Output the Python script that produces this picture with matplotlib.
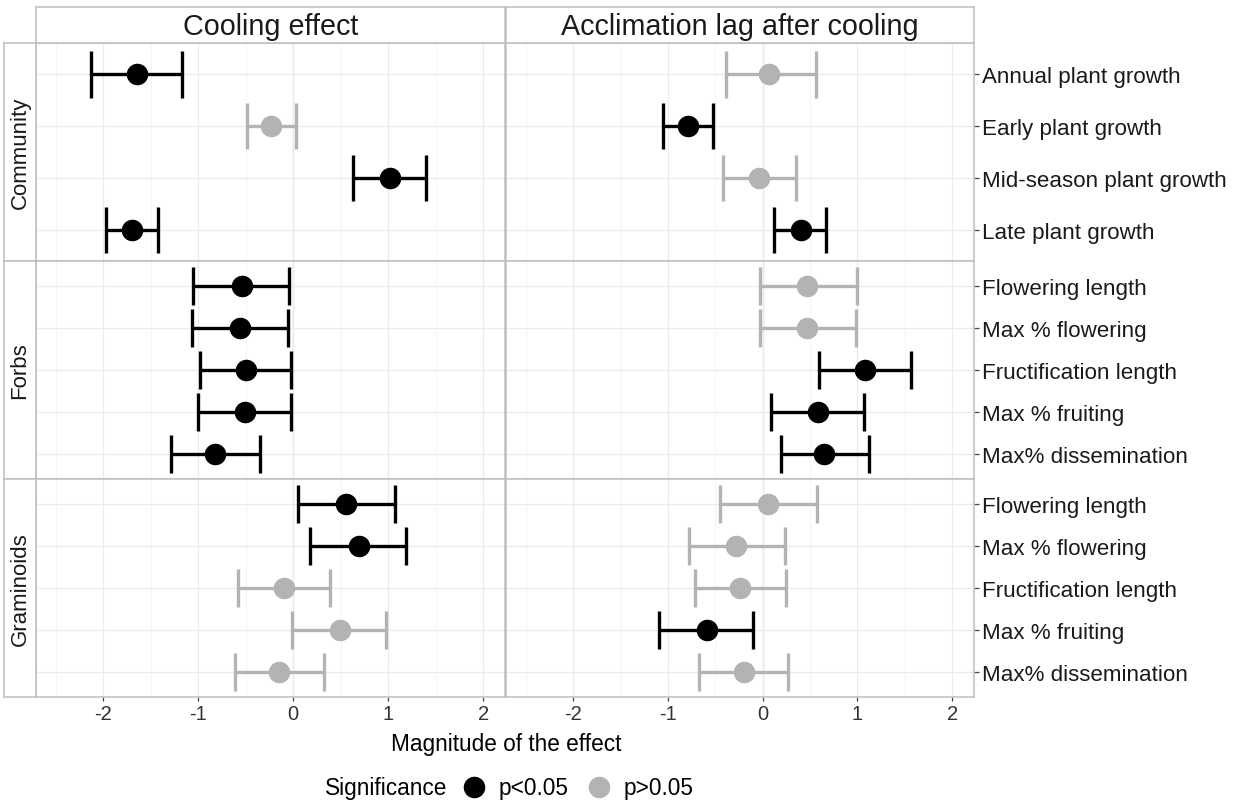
import matplotlib
matplotlib.use("Agg")
import matplotlib.pyplot as plt
import numpy as np

plt.rcParams["font.family"] = ["Liberation Sans", "DejaVu Sans"]
plt.rcParams["axes.unicode_minus"] = False

# ---- data ----
comm_labels = ["Annual plant growth", "Early plant growth", "Mid-season plant growth", "Late plant growth"]
pheno_labels = ["Flowering length", "Max % flowering", "Fructification length", "Max % fruiting", "Max% dissemination"]
groups = ["Community", "Forbs", "Graminoids"]
effects = ["Cooling effect", "Acclimation lag after cooling"]

cool_comm_est = [-1.65, -0.23, 1.02, -1.70]
cool_comm_lo = [-2.13, -0.49, 0.63, -1.97]
cool_comm_hi = [-1.17, 0.03, 1.40, -1.42]
cool_comm_sig = [1, 0, 1, 1]

lag_comm_est = [0.07, -0.79, -0.04, 0.40]
lag_comm_lo = [-0.39, -1.05, -0.42, 0.12]
lag_comm_hi = [0.56, -0.53, 0.35, 0.67]
lag_comm_sig = [0, 1, 0, 1]

cool_forb_est = [-0.54, -0.56, -0.50, -0.51, -0.82]
cool_forb_lo = [-1.06, -1.07, -0.98, -1.00, -1.29]
cool_forb_hi = [-0.04, -0.06, -0.02, -0.02, -0.35]
cool_forb_sig = [1, 1, 1, 1, 1]

lag_forb_est = [0.47, 0.47, 1.08, 0.58, 0.65]
lag_forb_lo = [-0.03, -0.03, 0.59, 0.09, 0.19]
lag_forb_hi = [0.99, 0.98, 1.56, 1.07, 1.12]
lag_forb_sig = [0, 0, 1, 1, 1]

cool_gram_est = [0.56, 0.69, -0.10, 0.49, -0.15]
cool_gram_lo = [0.05, 0.18, -0.58, -0.01, -0.61]
cool_gram_hi = [1.07, 1.19, 0.39, 0.98, 0.32]
cool_gram_sig = [1, 1, 0, 0, 0]

lag_gram_est = [0.06, -0.28, -0.24, -0.59, -0.20]
lag_gram_lo = [-0.45, -0.78, -0.72, -1.09, -0.67]
lag_gram_hi = [0.57, 0.23, 0.25, -0.10, 0.27]
lag_gram_sig = [0, 0, 0, 1, 0]

panels = [
    [(cool_comm_est, cool_comm_lo, cool_comm_hi, cool_comm_sig),
     (lag_comm_est, lag_comm_lo, lag_comm_hi, lag_comm_sig)],
    [(cool_forb_est, cool_forb_lo, cool_forb_hi, cool_forb_sig),
     (lag_forb_est, lag_forb_lo, lag_forb_hi, lag_forb_sig)],
    [(cool_gram_est, cool_gram_lo, cool_gram_hi, cool_gram_sig),
     (lag_gram_est, lag_gram_lo, lag_gram_hi, lag_gram_sig)],
]
row_labels = [comm_labels, pheno_labels, pheno_labels]

BLK = "#000000"; GRY = "#B3B3B3"; BORDER = "#BEBEBE"
W, H = 1239, 804
fig = plt.figure(figsize=(W / 100, H / 100), dpi=100)

def px_axes(x0, y0, x1, y1):
    return fig.add_axes([x0 / W, 1 - y1 / H, (x1 - x0) / W, (y1 - y0) / H])

def border(ax):
    for s in ax.spines.values():
        s.set_color(BORDER); s.set_linewidth(1.1)

col_x = [(36, 505), (506, 974)]
row_y = [(44, 262), (262, 480), (480, 698)]

handles = {}
for r, (y0, y1) in enumerate(row_y):
    labs = row_labels[r]
    n = len(labs)
    ypos = np.arange(n)
    for c, (x0, x1) in enumerate(col_x):
        ax = px_axes(x0, y0, x1, y1)
        est, lo, hi, sig = panels[r][c]
        ax.set_xlim(-2.71, 2.23)
        ax.set_ylim(n - 0.4, -0.6)
        ax.set_xticks([-2, -1, 0, 1, 2])
        ax.set_xticks([-2.5, -1.5, -0.5, 0.5, 1.5], minor=True)
        ax.set_yticks(ypos)
        ax.grid(which="major", color="#EBEBEB", lw=0.9, zorder=0)
        ax.grid(which="minor", axis="x", color="#F3F3F3", lw=0.6, zorder=0)
        ax.axvline(0, color="#D6D6D6", lw=0.9, zorder=0.5)
        ax.set_axisbelow(True)
        for i in range(n):
            col = BLK if sig[i] else GRY
            ax.hlines(ypos[i], lo[i], hi[i], color=col, lw=2.4, zorder=2)
            ax.vlines([lo[i], hi[i]], ypos[i] - 0.45, ypos[i] + 0.45, color=col, lw=2.4, zorder=2)
            ln, = ax.plot(est[i], ypos[i], "o", color=col, ms=14.5, zorder=3, ls="")
            handles[sig[i]] = ln
        border(ax)
        ax.tick_params(axis="both", which="minor", length=0)
        if r == 2:
            ax.tick_params(axis="x", length=3, width=0.9, color="#444444", labelsize=14.5,
                           labelcolor="#333333", pad=2)
        else:
            ax.tick_params(axis="x", length=0, labelbottom=False)
        if c == 1:
            ax.yaxis.tick_right()
            ax.set_yticklabels(labs)
            ax.tick_params(axis="y", length=3.5, width=0.9, color="#444444", labelsize=16.1,
                           labelcolor="#1A1A1A", pad=2)
        else:
            ax.tick_params(axis="y", length=0, labelleft=False)

    # row strip
    sax = px_axes(4, y0, 36, y1)
    sax.set_xticks([]); sax.set_yticks([])
    border(sax)
    sax.text(0.5, 0.5, groups[r], rotation=90, ha="center", va="center",
             fontsize=16, color="#1A1A1A", transform=sax.transAxes)

# column strips
for c, (x0, x1) in enumerate(col_x):
    sax = px_axes(x0, 8, x1, 44)
    sax.set_xticks([]); sax.set_yticks([])
    border(sax)
    sax.text(0.5, 0.47, effects[c], ha="center", va="center", fontsize=20.7,
             color="#1A1A1A", transform=sax.transAxes)

fig.text(506 / W, 1 - 745 / H, "Magnitude of the effect", ha="center", va="center",
         fontsize=16.3, color="#000000")

# legend
fig.text(325 / W, 1 - 789 / H, "Significance", ha="left", va="center", fontsize=16.3)
fig.legend([handles[1], handles[0]], ["p<0.05", "p>0.05"], ncol=2, frameon=False,
           loc="center left", bbox_to_anchor=(460 / W, 1 - 789 / H), fontsize=16.3,
           handlelength=1.2, handletextpad=0.5, columnspacing=0.75, borderpad=0,
           borderaxespad=0)

fig.savefig("out.png", dpi=100, facecolor="white")
